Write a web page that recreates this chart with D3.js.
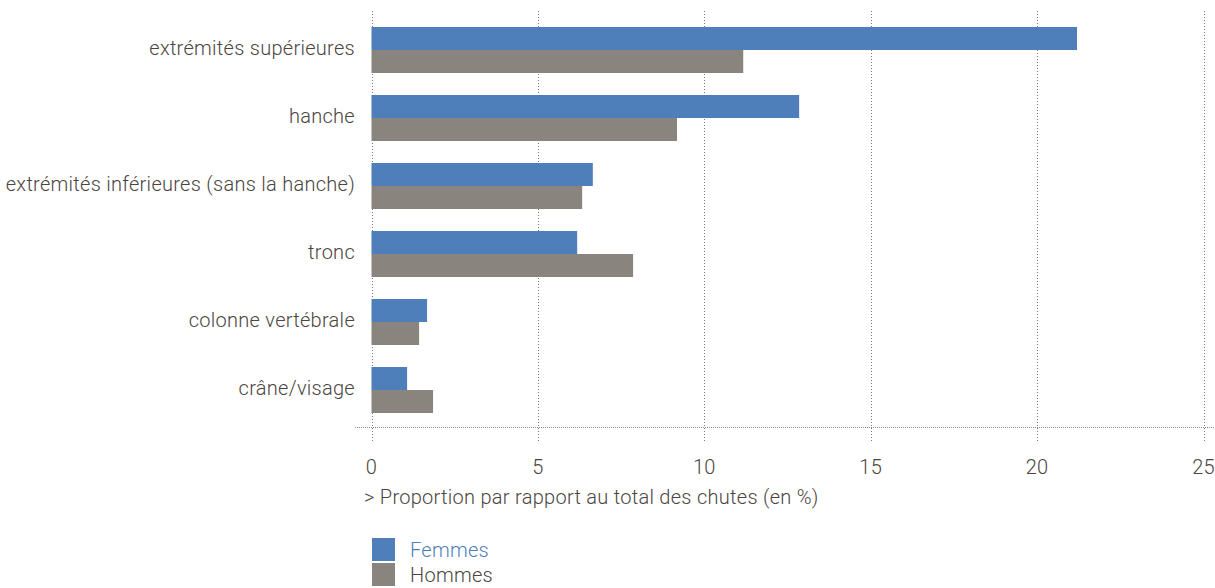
<!DOCTYPE html>
<html>
<head>
<meta charset="utf-8">
<script src="https://cdn.jsdelivr.net/npm/d3@7"></script>
<style>
  body { margin: 0; background: #fff; }
  text { font-family: Roboto, "Open Sans", sans-serif; font-weight: 300; letter-spacing: 0.28px; }
</style>
</head>
<body>
<div id="chart"></div>
<script>
var categories = ["extrémités supérieures", "hanche", "extrémités inférieures (sans la hanche)", "tronc", "colonne vertébrale", "crâne/visage"];
var femmes = [21.2, 12.85, 6.65, 6.18, 1.67, 1.07];
var hommes = [11.17, 9.18, 6.33, 7.86, 1.43, 1.85];
var ticks = [0, 5, 10, 15, 20, 25];
var seriesNames = ["Femmes", "Hommes"];
var colors = ["#4e7fba", "#8a847f"];

var W = 1215, H = 588;
var margin = { top: 27, left: 371.5, right: 11.5 };
var plotBottom = 427;
var step = 68, barH = 23;
var textColor = "#4a4541";

var svg = d3.select("#chart").append("svg")
    .attr("width", W)
    .attr("height", H);

var x = d3.scaleLinear().domain([0, 25]).range([margin.left, W - margin.right]);

// band 46 px inside a 68 px step
var y = d3.scaleBand().domain(categories)
    .range([margin.top, margin.top + step * (categories.length - 1) + 2 * barH])
    .paddingInner((step - 2 * barH) / step)
    .paddingOuter(0);

var sub = d3.scaleBand().domain(seriesNames).range([0, y.bandwidth()]);

// gridlines
svg.append("g").selectAll("line")
    .data(ticks)
    .enter().append("line")
    .attr("x1", function (d) { return Math.round(x(d)) + 0.5; })
    .attr("x2", function (d) { return Math.round(x(d)) + 0.5; })
    .attr("y1", 11)
    .attr("y2", 441)
    .attr("stroke", "#777")
    .attr("stroke-width", 1)
    .attr("stroke-dasharray", "1,2");

// baseline
svg.append("line")
    .attr("x1", 355).attr("x2", W)
    .attr("y1", plotBottom + 0.5).attr("y2", plotBottom + 0.5)
    .attr("stroke", "#888")
    .attr("stroke-dasharray", "1,1");

var data = categories.map(function (c, i) {
    return { cat: c, vals: [femmes[i], hommes[i]] };
});

var groups = svg.append("g").selectAll("g")
    .data(data)
    .enter().append("g")
    .attr("transform", function (d) { return "translate(0," + y(d.cat) + ")"; });

groups.selectAll("rect")
    .data(function (d) { return d.vals.map(function (v, j) { return { name: seriesNames[j], v: v, j: j }; }); })
    .enter().append("rect")
    .attr("x", x(0))
    .attr("y", function (d) { return sub(d.name); })
    .attr("width", function (d) { return x(d.v) - x(0); })
    .attr("height", sub.bandwidth())
    .attr("fill", function (d) { return colors[d.j]; });

// category labels
svg.append("g").selectAll("text")
    .data(categories)
    .enter().append("text")
    .attr("x", 355)
    .attr("y", function (d) { return y(d) + y.bandwidth() / 2 - 2; })
    .attr("dy", "0.35em")
    .attr("text-anchor", "end")
    .attr("font-size", 20)
    .attr("fill", textColor)
    .text(function (d) { return d; });

// tick labels
svg.append("g").selectAll("text")
    .data(ticks)
    .enter().append("text")
    .attr("x", function (d) { return x(d); })
    .attr("y", 474)
    .attr("text-anchor", "middle")
    .attr("font-size", 20)
    .attr("fill", textColor)
    .text(function (d) { return d; });

svg.append("text")
    .attr("x", 364)
    .attr("y", 504)
    .attr("font-size", 20)
    .attr("fill", textColor)
    .text("> Proportion par rapport au total des chutes (en %)");

// legend
var legend = svg.append("g").selectAll("g")
    .data(seriesNames)
    .enter().append("g")
    .attr("transform", function (d, i) { return "translate(372," + (538 + i * 25) + ")"; });

legend.append("rect")
    .attr("width", 23).attr("height", 23)
    .attr("fill", function (d, i) { return colors[i]; });

legend.append("text")
    .attr("x", 38)
    .attr("y", 12)
    .attr("dy", "0.35em")
    .attr("font-size", 20)
    .attr("fill", function (d, i) { return i === 0 ? "#4e7fba" : textColor; })
    .text(function (d) { return d; });
</script>
</body>
</html>
